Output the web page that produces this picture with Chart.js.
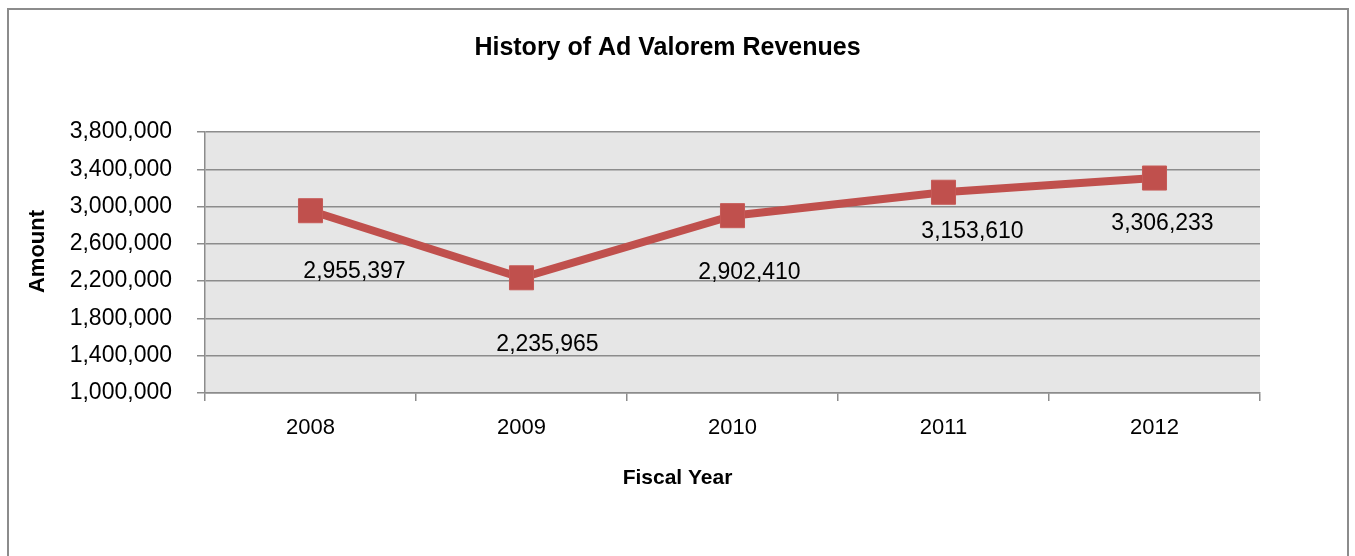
<!DOCTYPE html>
<html>
<head>
<meta charset="utf-8">
<title>History of Ad Valorem Revenues</title>
<script src="https://cdn.jsdelivr.net/npm/chart.js@4.4.0/dist/chart.umd.min.js"></script>
<style>
  html, body { margin: 0; padding: 0; background: #fff; overflow: hidden; }
  #frame { position: absolute; left: 7px; top: 8px; width: 1338px; height: 600px; border: 2px solid #8c8c8c; }
  #wrap { position: absolute; left: 0; top: 0; width: 1355px; height: 556px; }
</style>
</head>
<body>
<div id="frame"></div>
<div id="wrap"><canvas id="revenueChart" width="1355" height="556"></canvas></div>
<script>
const fiscalYears = ['2008', '2009', '2010', '2011', '2012'];
const revenues = [2955397, 2235965, 2902410, 3153610, 3306233];
const amountTicks = [1000000, 1400000, 1800000, 2200000, 2600000, 3000000, 3400000, 3800000];

// value labels were dragged around by hand in the original, so each one has its own shift
const labelShiftX = [44, 26, 17, 29, 8];
const labelShiftY = [61, 67, 57, 39, 46];

const chartTitle = 'History of Ad Valorem Revenues';
const fmt = v => v.toLocaleString('en-US');

Chart.defaults.font.family = '"Liberation Sans", Arial, sans-serif';
Chart.defaults.color = '#000';

// grey plot area behind the line
const plotBackground = {
    id: 'plotBackground',
    beforeDraw(chart) {
        const { ctx, chartArea: a } = chart;
        ctx.save();
        ctx.fillStyle = '#e6e6e6';
        ctx.fillRect(a.left, a.top, a.right - a.left, a.bottom - a.top);
        ctx.restore();
    }
};

// numbers under each point
const valueLabels = {
    id: 'valueLabels',
    afterDatasetsDraw(chart) {
        const { ctx } = chart;
        const meta = chart.getDatasetMeta(0);
        ctx.save();
        ctx.font = '23px "Liberation Sans", Arial, sans-serif';
        ctx.fillStyle = '#000';
        ctx.textAlign = 'center';
        ctx.textBaseline = 'middle';
        meta.data.forEach((pt, i) => {
            ctx.fillText(fmt(revenues[i]), pt.x + labelShiftX[i], pt.y + labelShiftY[i]);
        });
        ctx.restore();
    }
};

// chart + axis titles, centred on the whole chart like the original (not on the plot)
const titles = {
    id: 'titles',
    afterDraw(chart) {
        const { ctx, chartArea: a } = chart;
        ctx.save();
        ctx.fillStyle = '#000';
        ctx.textAlign = 'center';
        ctx.textBaseline = 'middle';
        ctx.font = 'bold 25px "Liberation Sans", Arial, sans-serif';
        ctx.fillText(chartTitle, chart.width / 2 - 10, 48);
        ctx.font = 'bold 21px "Liberation Sans", Arial, sans-serif';
        ctx.fillText('Fiscal Year', chart.width / 2, a.bottom + 85);
        ctx.translate(38, (a.top + a.bottom) / 2 - 11);
        ctx.rotate(-Math.PI / 2);
        ctx.font = 'bold 22px "Liberation Sans", Arial, sans-serif';
        ctx.fillText('Amount', 0, 0);
        ctx.restore();
    }
};

new Chart(document.getElementById('revenueChart'), {
    type: 'line',
    data: {
        labels: fiscalYears,
        datasets: [{
            label: 'Ad Valorem Revenues',
            data: revenues,
            borderColor: '#c0504d',
            borderWidth: 8,
            tension: 0,
            pointStyle: 'rect',
            pointRadius: 17,
            pointHoverRadius: 17,
            pointBackgroundColor: '#c0504d',
            pointBorderColor: '#c65a57',
            pointBorderWidth: 1
        }]
    },
    options: {
        responsive: false,
        animation: false,
        layout: { padding: { left: 0, right: 95, top: 132, bottom: 0 } },
        plugins: {
            legend: { display: false },
            tooltip: { enabled: false },
            title: { display: false }
        },
        scales: {
            x: {
                offset: true,
                grid: {
                    offset: true,
                    drawOnChartArea: false,
                    drawTicks: true,
                    tickLength: 8,
                    color: '#8c8c8c',
                    lineWidth: 1.5
                },
                border: { color: '#8c8c8c', width: 1.5 },
                ticks: { font: { size: 22 }, padding: 14, maxRotation: 0 },
                afterFit(scale) { scale.height = 163; }
            },
            y: {
                min: amountTicks[0],
                max: amountTicks[amountTicks.length - 1],
                afterBuildTicks(scale) { scale.ticks = amountTicks.map(v => ({ value: v })); },
                grid: { color: '#8c8c8c', lineWidth: 1.5, tickLength: 8 },
                border: { color: '#8c8c8c', width: 1.5 },
                ticks: { font: { size: 23 }, padding: 25, callback: v => fmt(v) },
                afterFit(scale) { scale.width = 205; }
            }
        }
    },
    plugins: [plotBackground, valueLabels, titles]
});
</script>
</body>
</html>
